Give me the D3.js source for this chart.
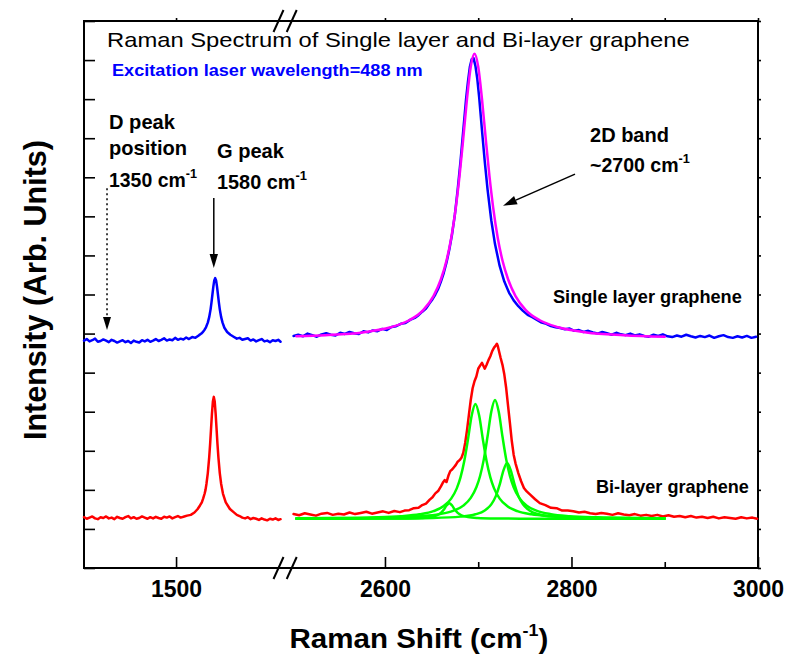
<!DOCTYPE html>
<html>
<head>
<meta charset="utf-8">
<script src="https://cdn.jsdelivr.net/npm/d3@7"></script>
<style>
  html, body { margin: 0; padding: 0; background: #fff; }
  svg { display: block; }
  text { font-family: "Liberation Sans", Arial, Helvetica, sans-serif; }
</style>
</head>
<body>
<svg id="chart" width="787" height="660"></svg>
<script>
// ---------------------------------------------------------------------------
// Raman spectra of single-layer and bi-layer graphene (488 nm excitation).
// Each series is a list of [Raman shift (cm^-1), intensity (arb. units)].
// The two spectra are vertically offset from each other.
// ---------------------------------------------------------------------------

// Single layer, D/G region
const singleLayerLow = [
  [1300,5.82],[1306,5.86],[1312,5.80],[1318,5.83],[1324,5.87],[1330,5.79],[1336,5.81],[1342,5.85],
  [1348,5.82],[1354,5.78],[1360,5.84],[1366,5.81],[1372,5.77],[1378,5.80],[1384,5.83],[1390,5.78],
  [1396,5.81],[1402,5.76],[1408,5.82],[1414,5.79],[1420,5.77],[1426,5.83],[1432,5.80],[1438,5.84],
  [1444,5.79],[1450,5.82],[1456,5.86],[1462,5.81],[1468,5.84],[1474,5.88],[1480,5.82],[1486,5.85],
  [1492,5.83],[1498,5.89],[1504,5.84],[1510,5.87],[1516,5.85],[1522,5.90],[1528,5.86],[1535,5.91],
  [1542,5.89],[1550,5.96],[1555,6.00],[1559,6.05],[1562,6.10],[1565,6.16],[1569,6.28],[1572,6.42],
  [1575,6.62],[1577,6.80],[1579,7.00],[1581,7.20],[1583,7.36],[1585,7.42],[1587,7.36],[1589,7.20],
  [1591,7.00],[1593,6.80],[1595,6.62],[1598,6.42],[1601,6.28],[1605,6.15],[1611,6.04],[1618,5.97],
  [1625,5.92],[1632,5.87],[1638,5.89],[1644,5.84],[1650,5.86],[1656,5.88],[1662,5.82],[1668,5.85],
  [1674,5.80],[1680,5.83],[1686,5.86],[1692,5.80],[1698,5.82],[1704,5.78],[1710,5.83],[1716,5.81],
  [1722,5.84],[1727,5.79]
];

// Single layer, 2D region
const singleLayerHigh = [
  [2502,5.94],[2507,5.97],[2512,5.93],[2517,6.00],[2522,5.96],[2527,5.92],[2532,5.98],[2537,6.01],
  [2542,5.97],[2547,5.95],[2552,6.02],[2557,5.99],[2562,6.04],[2567,6.01],[2572,5.99],[2577,6.06],
  [2582,6.03],[2587,6.08],[2592,6.06],[2597,6.12],[2602,6.09],[2607,6.17],[2612,6.19],[2617,6.25],
  [2622,6.27],[2627,6.35],[2632,6.40],[2636,6.47],[2640,6.56],[2644,6.64],[2648,6.78],[2651,6.88],
  [2654,7.00],[2657,7.14],[2660,7.33],[2663,7.55],[2666,7.82],[2669,8.15],[2672,8.55],[2675,9.05],
  [2678,9.69],[2681,10.41],[2684,11.21],[2687,12.01],[2689,12.45],[2691,12.82],[2693,13.02],[2695,13.05],
  [2697,12.85],[2699,12.52],[2701,12.05],[2704,11.21],[2707,10.41],[2710,9.69],[2714,8.90],[2718,8.29],
  [2723,7.73],[2728,7.33],[2733,7.05],[2738,6.85],[2743,6.70],[2748,6.58],[2753,6.48],[2758,6.42],
  [2763,6.35],[2768,6.28],[2773,6.25],[2778,6.19],[2783,6.16],[2788,6.14],[2793,6.11],[2798,6.13],
  [2803,6.07],[2808,6.09],[2813,6.04],[2818,6.07],[2823,6.03],[2828,6.00],[2833,6.04],[2838,6.01],
  [2843,5.97],[2848,6.02],[2853,5.98],[2858,5.96],[2863,6.00],[2868,5.95],[2873,5.98],[2878,5.94],
  [2883,5.92],[2888,5.97],[2893,5.94],[2898,5.98],[2903,5.93],[2908,5.91],[2913,5.95],[2918,5.92],
  [2923,5.97],[2928,5.93],[2933,5.90],[2938,5.94],[2943,5.91],[2948,5.95],[2953,5.89],[2958,5.93],
  [2963,5.96],[2968,5.91],[2973,5.89],[2978,5.93],[2983,5.90],[2988,5.94],[2993,5.89],[2998,5.92]
];

// Single layer 2D band, single Lorentzian fit
const singleLayerFit = [
  [2505,5.93],[2536,5.96],[2576,6.03],[2606,6.16],[2626,6.34],[2641,6.60],[2652,6.96],[2660,7.39],
  [2666,7.87],[2671,8.44],[2676,9.23],[2680,10.04],[2684,11.00],[2688,12.01],[2692,12.83],[2696,13.16],
  [2700,12.83],[2704,12.01],[2708,11.00],[2712,10.04],[2716,9.23],[2721,8.44],[2726,7.87],[2732,7.39],
  [2740,6.96],[2751,6.60],[2766,6.34],[2786,6.16],[2816,6.03],[2856,5.96],[2900,5.92]
];

// Bi-layer, D/G region
const bilayerLow = [
  [1300,1.30],[1306,1.26],[1312,1.29],[1318,1.32],[1324,1.27],[1330,1.25],[1336,1.30],[1342,1.28],
  [1348,1.32],[1354,1.27],[1360,1.29],[1366,1.25],[1372,1.31],[1378,1.28],[1384,1.26],[1390,1.30],
  [1396,1.33],[1402,1.27],[1408,1.30],[1414,1.26],[1420,1.28],[1426,1.32],[1432,1.29],[1438,1.26],
  [1444,1.30],[1450,1.27],[1456,1.31],[1462,1.28],[1468,1.26],[1474,1.31],[1480,1.29],[1486,1.32],
  [1492,1.27],[1498,1.30],[1504,1.33],[1510,1.29],[1516,1.31],[1524,1.34],[1532,1.36],[1540,1.42],
  [1547,1.51],[1552,1.60],[1556,1.68],[1559,1.78],[1562,1.90],[1564,2.00],[1566,2.15],[1569,2.43],
  [1572,2.83],[1574,3.17],[1576,3.56],[1578,3.95],[1580,4.26],[1582,4.38],[1584,4.26],[1586,3.95],
  [1588,3.56],[1590,3.17],[1592,2.83],[1595,2.43],[1598,2.15],[1602,1.90],[1608,1.68],[1617,1.51],
  [1625,1.43],[1632,1.36],[1638,1.33],[1644,1.29],[1650,1.27],[1656,1.30],[1662,1.25],[1668,1.28],
  [1674,1.26],[1680,1.23],[1686,1.27],[1692,1.24],[1698,1.22],[1704,1.26],[1710,1.24],[1716,1.27],
  [1722,1.23],[1727,1.25]
];

// Bi-layer, 2D region
const bilayerHigh = [
  [2502,1.38],[2508,1.35],[2514,1.40],[2520,1.37],[2526,1.34],[2532,1.39],[2538,1.41],[2544,1.36],
  [2550,1.39],[2556,1.37],[2562,1.42],[2568,1.38],[2574,1.41],[2580,1.44],[2586,1.39],[2592,1.42],
  [2598,1.45],[2604,1.41],[2610,1.46],[2616,1.43],[2621,1.47],[2626,1.48],[2631,1.53],[2636,1.54],
  [2640,1.61],[2644,1.65],[2648,1.75],[2651,1.81],[2654,1.91],[2657,1.97],[2660,2.09],[2662,2.18],
  [2664,2.25],[2666,2.20],[2668,2.36],[2670,2.48],[2672,2.52],[2674,2.58],[2676,2.64],[2678,2.72],
  [2680,2.76],[2682,2.82],[2684,2.95],[2686,3.20],[2688,3.53],[2690,3.92],[2692,4.30],[2694,4.60],
  [2696,4.78],[2698,4.90],[2700,5.10],[2702,5.18],[2704,5.25],[2706,5.15],[2707,5.10],[2709,5.20],
  [2711,5.32],[2713,5.42],[2715,5.55],[2717,5.64],[2719,5.70],[2720,5.74],[2721,5.68],[2722,5.58],
  [2724,5.38],[2726,5.20],[2728,4.95],[2730,4.60],[2732,4.15],[2734,3.71],[2736,3.25],[2738,2.90],
  [2740,2.68],[2743,2.43],[2746,2.22],[2749,2.05],[2752,1.96],[2756,1.87],[2761,1.76],[2766,1.66],
  [2772,1.61],[2778,1.54],[2784,1.53],[2790,1.47],[2796,1.47],[2802,1.45],[2808,1.42],[2814,1.44],
  [2820,1.40],[2826,1.38],[2832,1.41],[2838,1.39],[2844,1.36],[2850,1.40],[2856,1.37],[2862,1.35],
  [2868,1.38],[2874,1.34],[2880,1.36],[2886,1.33],[2892,1.36],[2898,1.32],[2904,1.35],[2910,1.31],
  [2916,1.33],[2922,1.30],[2928,1.33],[2934,1.29],[2940,1.31],[2946,1.28],[2952,1.31],[2958,1.27],
  [2964,1.30],[2970,1.28],[2976,1.26],[2982,1.30],[2988,1.27],[2994,1.29],[2999,1.26]
];

// Bi-layer 2D band, four Lorentzian components
const bilayerFit1 = [
  [2505,1.260],[2560,1.263],[2600,1.265],[2620,1.268],[2639,1.281],[2649,1.304],[2656,1.350],[2660,1.411],
  [2663,1.490],[2666,1.598],[2669,1.660],[2672,1.598],[2675,1.490],[2678,1.411],[2682,1.350],[2689,1.304],
  [2699,1.281],[2719,1.268],[2760,1.262],[2900,1.260]
];
const bilayerFit2 = [
  [2505,1.271],[2547,1.279],[2587,1.295],[2617,1.325],[2637,1.373],[2652,1.455],[2663,1.586],[2671,1.776],
  [2677,2.038],[2681,2.318],[2685,2.730],[2689,3.290],[2693,3.905],[2697,4.200],[2701,3.905],[2705,3.290],
  [2709,2.730],[2713,2.318],[2717,2.038],[2723,1.776],[2731,1.586],[2742,1.455],[2757,1.373],[2777,1.325],
  [2807,1.295],[2847,1.279],[2900,1.270]
];
const bilayerFit3 = [
  [2505,1.270],[2568,1.279],[2608,1.296],[2638,1.327],[2658,1.377],[2673,1.462],[2684,1.597],[2692,1.794],
  [2698,2.065],[2702,2.354],[2706,2.780],[2710,3.364],[2714,3.996],[2718,4.300],[2722,3.996],[2726,3.364],
  [2730,2.780],[2734,2.354],[2738,2.065],[2744,1.794],[2752,1.597],[2763,1.462],[2778,1.377],[2798,1.327],
  [2828,1.296],[2868,1.279],[2900,1.273]
];
const bilayerFit4 = [
  [2505,1.263],[2601,1.268],[2651,1.282],[2681,1.315],[2697,1.374],[2707,1.472],[2714,1.628],[2719,1.846],
  [2723,2.132],[2727,2.493],[2731,2.690],[2735,2.493],[2739,2.132],[2743,1.846],[2748,1.628],[2755,1.472],
  [2765,1.374],[2781,1.315],[2811,1.282],[2861,1.268],[2900,1.265]
];

// Axis ticks
const lowShiftTicks = [1500];
const highShiftMajorTicks = [2600, 2800, 3000];
const highShiftMinorTicks = [2700, 2900];
const intensityTicks = [0,1,2,3,4,5,6,7,8,9,10,11,12,13,14];

// Peak positions named in the annotations
const dPeakShift = 1350;
const gPeakShift = 1582;

// ---------------------------------------------------------------------------
const svg = d3.select("#chart");
const frame = { left: 84, right: 758, top: 21, bottom: 568 };

// Broken x axis: D/G window and 2D window
const xLow = d3.scaleLinear().domain([1300, 1728]).range([frame.left, 281]);
const xHigh = d3.scaleLinear().domain([2500, 3000]).range([291.7, frame.right]);
const y = d3.scaleLinear().domain([0, 14]).range([frame.bottom, frame.top]);

const lineLow = d3.line().x(d => xLow(d[0])).y(d => y(d[1]));
const lineHigh = d3.line().x(d => xHigh(d[0])).y(d => y(d[1]));
const smoothHigh = d3.line().curve(d3.curveMonotoneX).x(d => xHigh(d[0])).y(d => y(d[1]));

const RED = "#ff0000", BLUE = "#0000ff", GREEN = "#00ff00", MAGENTA = "#ff00ff";
const fmtShift = d3.format("d");

// ---- Axes --------------------------------------------------------------
function styleAxis(g) {
  g.select(".domain").remove();
  g.selectAll(".tick line").attr("stroke", "#000").attr("stroke-width", 1.6);
}

// left: inward ticks, no labels
svg.append("g").attr("transform", `translate(${frame.left},0)`)
  .call(d3.axisRight(y).tickValues(intensityTicks).tickSize(11).tickFormat(""))
  .call(styleAxis);
// right: short outward ticks
svg.append("g").attr("transform", `translate(${frame.right},0)`)
  .call(d3.axisRight(y).tickValues(intensityTicks).tickSize(3).tickFormat(""))
  .call(styleAxis);

// bottom: inward major ticks with labels, inward minor ticks
function bottomMajor(scale, ticks) {
  const g = svg.append("g").attr("transform", `translate(0,${frame.bottom})`)
    .call(d3.axisBottom(scale).tickValues(ticks).tickFormat(fmtShift)
      .tickSizeInner(-11).tickSizeOuter(0).tickPadding(13))
    .call(styleAxis);
  g.selectAll(".tick text")
    .attr("font-family", '"Liberation Sans", Arial, sans-serif')
    .attr("font-size", 23).attr("font-weight", "bold").attr("fill", "#000");
}
bottomMajor(xLow, lowShiftTicks);
bottomMajor(xHigh, highShiftMajorTicks);
svg.append("g").attr("transform", `translate(0,${frame.bottom})`)
  .call(d3.axisBottom(xHigh).tickValues(highShiftMinorTicks).tickSizeInner(-6).tickSizeOuter(0).tickFormat(""))
  .call(styleAxis);

// top: short outward ticks
[[xLow, lowShiftTicks], [xHigh, highShiftMajorTicks.concat(highShiftMinorTicks)]].forEach(([s, t]) => {
  svg.append("g").attr("transform", `translate(0,${frame.top})`)
    .call(d3.axisTop(s).tickValues(t).tickSize(3).tickFormat(""))
    .call(styleAxis);
});

// frame
const frameG = svg.append("g").attr("stroke", "#000").attr("stroke-width", 2).attr("fill", "none");
frameG.append("line").attr("x1", frame.left).attr("x2", frame.right).attr("y1", frame.bottom).attr("y2", frame.bottom);
frameG.append("line").attr("x1", frame.left).attr("x2", frame.right).attr("y1", frame.top).attr("y2", frame.top);
frameG.append("line").attr("x1", frame.left).attr("x2", frame.left).attr("y1", frame.top - 1).attr("y2", frame.bottom + 1);
frameG.append("line").attr("x1", frame.right).attr("x2", frame.right).attr("y1", frame.top - 1).attr("y2", frame.bottom + 1);

// axis-break marks on top and bottom edges
const breakX = [xLow.range()[1] - 2.5, xHigh.range()[0]];
[frame.top, frame.bottom].forEach(yy => {
  breakX.forEach(bx => {
    frameG.append("line")
      .attr("x1", bx - 5).attr("y1", yy + 11)
      .attr("x2", bx + 5).attr("y2", yy - 11)
      .attr("stroke-width", 2);
  });
});

// ---- Spectra -----------------------------------------------------------
const plot = svg.append("g").attr("fill", "none").attr("stroke-linejoin", "round").attr("stroke-linecap", "round");
const LW = 2.5;

plot.append("path").attr("d", lineLow(bilayerLow)).attr("stroke", RED).attr("stroke-width", LW);
plot.append("path").attr("d", lineHigh(bilayerHigh)).attr("stroke", RED).attr("stroke-width", LW);
[bilayerFit1, bilayerFit2, bilayerFit3, bilayerFit4].forEach(s => {
  plot.append("path").attr("d", smoothHigh(s)).attr("stroke", GREEN).attr("stroke-width", LW);
});
plot.append("path").attr("d", lineLow(singleLayerLow)).attr("stroke", BLUE).attr("stroke-width", LW);
plot.append("path").attr("d", lineHigh(singleLayerHigh)).attr("stroke", BLUE).attr("stroke-width", LW);
plot.append("path").attr("d", smoothHigh(singleLayerFit)).attr("stroke", MAGENTA).attr("stroke-width", LW);

// ---- Text helper: builds a label and squeezes it to a given width --------
function label(parent, o) {
  const g = parent.append("g");
  const t = g.append("text")
    .attr("font-size", o.size)
    .attr("font-weight", o.weight || "bold")
    .attr("fill", o.fill || "#000");
  o.parts.forEach(p => {
    if (p.sup) {
      t.append("tspan").attr("font-size", o.supSize).attr("dy", -o.raise).text(p.text);
    } else {
      const ts = t.append("tspan").text(p.text);
      if (p.after) ts.attr("dy", o.raise);
    }
  });
  const w = t.node().getComputedTextLength();
  const sx = o.width ? o.width / w : 1;
  if (o.rotate) {
    g.attr("transform", `translate(${o.x},${o.y}) rotate(-90) translate(${-(w * sx) / 2},0) scale(${sx},1)`);
  } else {
    const x0 = o.anchor === "middle" ? o.x - (w * sx) / 2 : o.x;
    g.attr("transform", `translate(${x0},${o.y}) scale(${sx},1)`);
  }
  return g;
}

const ann = svg.append("g");

label(ann, { x: 107, y: 47, size: 21, weight: "normal", width: 583,
  parts: [{ text: "Raman Spectrum of Single layer and Bi-layer graphene" }] });
label(ann, { x: 112, y: 76, size: 17, fill: BLUE, width: 311,
  parts: [{ text: "Excitation laser wavelength=488 nm" }] });

label(ann, { x: 109, y: 129, size: 20, width: 66, parts: [{ text: "D peak" }] });
label(ann, { x: 109, y: 155, size: 20, width: 78, parts: [{ text: "position" }] });
label(ann, { x: 109, y: 187, size: 20, supSize: 13, raise: 9, width: 88,
  parts: [{ text: "1350 cm" }, { text: "-1", sup: true }] });

label(ann, { x: 217, y: 158, size: 20, width: 67, parts: [{ text: "G peak" }] });
label(ann, { x: 217, y: 189, size: 20, supSize: 13, raise: 9, width: 90,
  parts: [{ text: "1580 cm" }, { text: "-1", sup: true }] });

label(ann, { x: 590, y: 142, size: 20, width: 79, parts: [{ text: "2D band" }] });
label(ann, { x: 590, y: 172, size: 20, supSize: 13, raise: 9, width: 100,
  parts: [{ text: "~2700 cm" }, { text: "-1", sup: true }] });

label(ann, { x: 553, y: 303, size: 19, width: 189, parts: [{ text: "Single layer graphene" }] });
label(ann, { x: 596, y: 493, size: 18, width: 153, parts: [{ text: "Bi-layer graphene" }] });

// axis titles
label(ann, { x: (frame.left + frame.right) / 2 - 2, y: 648, size: 28, supSize: 17, raise: 12, width: 259, anchor: "middle",
  parts: [{ text: "Raman Shift (cm" }, { text: "-1", sup: true }, { text: ")", after: true }] });
label(ann, { x: 46, y: 290, size: 31, width: 300, rotate: true,
  parts: [{ text: "Intensity (Arb. Units)" }] });

// ---- Arrows ------------------------------------------------------------
function arrow(x1, y1, x2, y2, opts = {}) {
  const len = opts.head || 14, hw = opts.halfWidth || 4.5;
  const a = Math.atan2(y2 - y1, x2 - x1);
  const bx = x2 - len * Math.cos(a), by = y2 - len * Math.sin(a);
  ann.append("line")
    .attr("x1", x1).attr("y1", y1).attr("x2", bx).attr("y2", by)
    .attr("stroke", "#000").attr("stroke-width", opts.width || 1.4)
    .attr("stroke-dasharray", opts.dash || null);
  const px = -Math.sin(a) * hw, py = Math.cos(a) * hw;
  ann.append("path")
    .attr("d", `M${x2},${y2}L${bx + px},${by + py}L${bx - px},${by - py}Z`)
    .attr("fill", "#000");
}

// D peak (dotted), G peak, 2D band
arrow(xLow(dPeakShift), y(9.72), xLow(dPeakShift), y(6.09), { dash: "2,3", head: 13, halfWidth: 4, width: 1.5 });
arrow(xLow(gPeakShift), y(9.47), xLow(gPeakShift), y(7.68), { head: 14, halfWidth: 4.2, width: 1.5 });
arrow(xHigh(2803.8), y(10.08), xHigh(2726.6), y(9.27), { head: 14, halfWidth: 4.5, width: 1.5 });
</script>
</body>
</html>
